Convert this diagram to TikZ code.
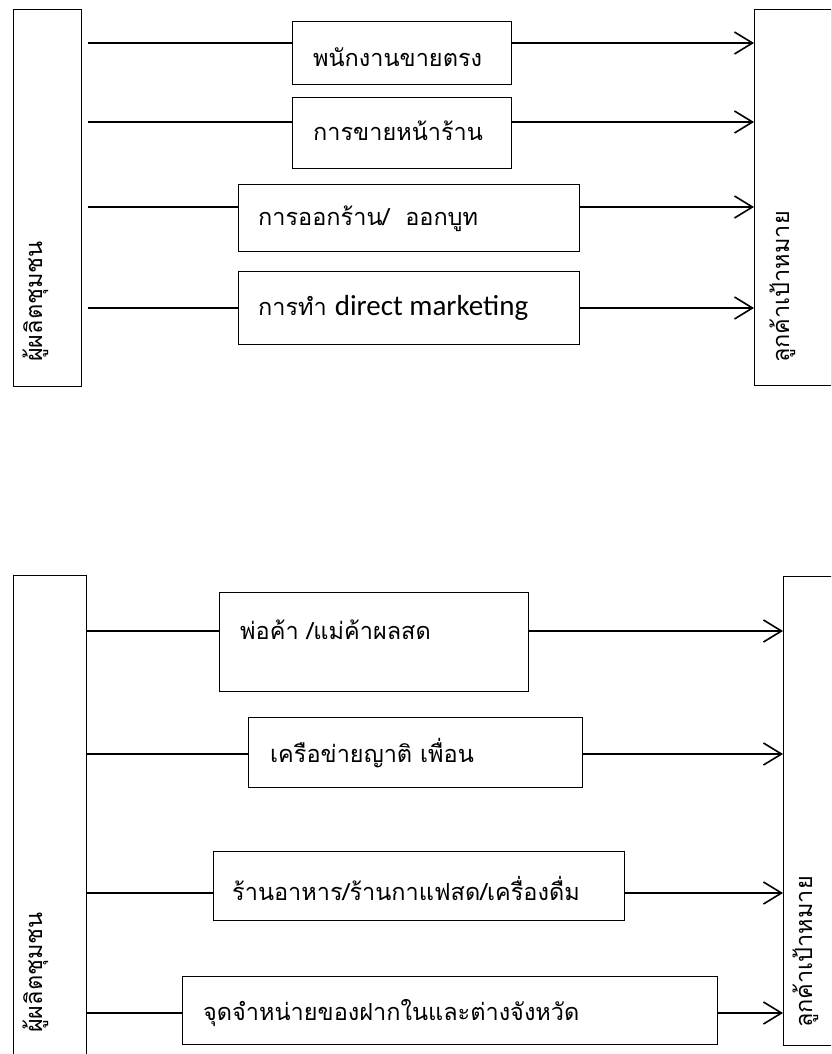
\documentclass[tikz,border=0pt]{standalone}
\usepackage{fontspec}
\usetikzlibrary{arrows.meta}
\newfontfamily\thai[Script=Thai]{Loma}
\newfontfamily\lat{Carlito}
\begin{document}
\begin{tikzpicture}[x=1pt,y=-1pt,
  box/.style={draw,line width=1.3pt,inner sep=0,anchor=north west},
  lbl/.style={anchor=west,inner sep=0,font=\thai\fontsize{23.5}{26}\selectfont},
  vlbl/.style={anchor=base west,inner sep=0,rotate=90,font=\thai\fontsize{23.5}{26}\selectfont},
  conn/.style={line width=1.6pt},
  arr/.style={line width=1.6pt,-{Straight Barb[length=18pt,width=22pt,line width=1.6pt]}}]
\clip (0,0) rectangle (831,1054);
\fill[white] (0,0) rectangle (831,1054);
% ---------- top diagram ----------
\node[box,minimum width=68pt,minimum height=377pt] (L1) at (13,9) {};
\node[box,minimum width=77pt,minimum height=376pt] (R1) at (754,9) {};
\node[vlbl] (tl1) at (42,362) {ผู้ผลิตชุมชน};
\node[vlbl] (tr1) at (789,363) {ลูกค้าเป้าหมาย};
\node[box,minimum width=219pt,minimum height=63pt] (a1) at (292,21) {};
\node[box,minimum width=219pt,minimum height=71pt] (a2) at (292,97) {};
\node[box,minimum width=341pt,minimum height=67pt] (a3) at (238,184) {};
\node[box,minimum width=341pt,minimum height=73pt] (a4) at (238,271) {};
\node[lbl] (ta1) at (313,57) {พนักงานขายตรง};
\node[lbl] (ta2) at (313,131) {การขายหน้าร้าน};
\node[lbl] (ta3) at (258,219) {การออกร้าน/\ \ ออกบูท};
\node[lbl] (ta4) at (258,308) {การทำ {\lat\fontsize{29}{32}\selectfont direct marketing}};
\coordinate (s1) at (88,43);
\coordinate (s2) at (88,122);
\coordinate (s3) at (88,207);
\coordinate (s4) at (88,308);
\foreach \s/\b in {s1/a1,s2/a2,s3/a3,s4/a4}{
  \draw[conn] (\s) -- (\s -| \b.west);
  \draw[arr] (\b.east |- \s) -- (\s -| R1.west);
}
% ---------- bottom diagram ----------
\node[box,minimum width=73pt,minimum height=500pt] (L2) at (13,575) {};
\node[box,minimum width=60pt,minimum height=469pt] (R2) at (783,576) {};
\node[vlbl] (tl2) at (42,1033) {ผู้ผลิตชุมชน};
\node[vlbl] (tr2) at (812,1028) {ลูกค้าเป้าหมาย};
\node[box,minimum width=309pt,minimum height=99pt] (b1) at (219,592) {};
\node[box,minimum width=334pt,minimum height=70pt] (b2) at (248,717) {};
\node[box,minimum width=411pt,minimum height=69pt] (b3) at (213,851) {};
\node[box,minimum width=535pt,minimum height=68pt] (b4) at (182,976) {};
\node[lbl] (tb1) at (240,630) {พ่อค้า /แม่ค้าผลสด};
\node[lbl] (tb2) at (270,753) {เครือข่ายญาติ เพื่อน};
\node[lbl] (tb3) at (232,888) {ร้านอาหาร/ร้านกาแฟสด/เครื่องดื่ม};
\node[lbl] (tb4) at (203,1013) {จุดจำหน่ายของฝากในและต่างจังหวัด};
\coordinate (u1) at (L2.east |- 0,631);
\coordinate (u2) at (L2.east |- 0,754);
\coordinate (u3) at (L2.east |- 0,893);
\coordinate (u4) at (L2.east |- 0,1013);
\foreach \s/\b in {u1/b1,u2/b2,u3/b3,u4/b4}{
  \draw[conn] (\s) -- (\s -| \b.west);
  \draw[arr] (\b.east |- \s) -- (\s -| R2.west);
}
\end{tikzpicture}
\end{document}
